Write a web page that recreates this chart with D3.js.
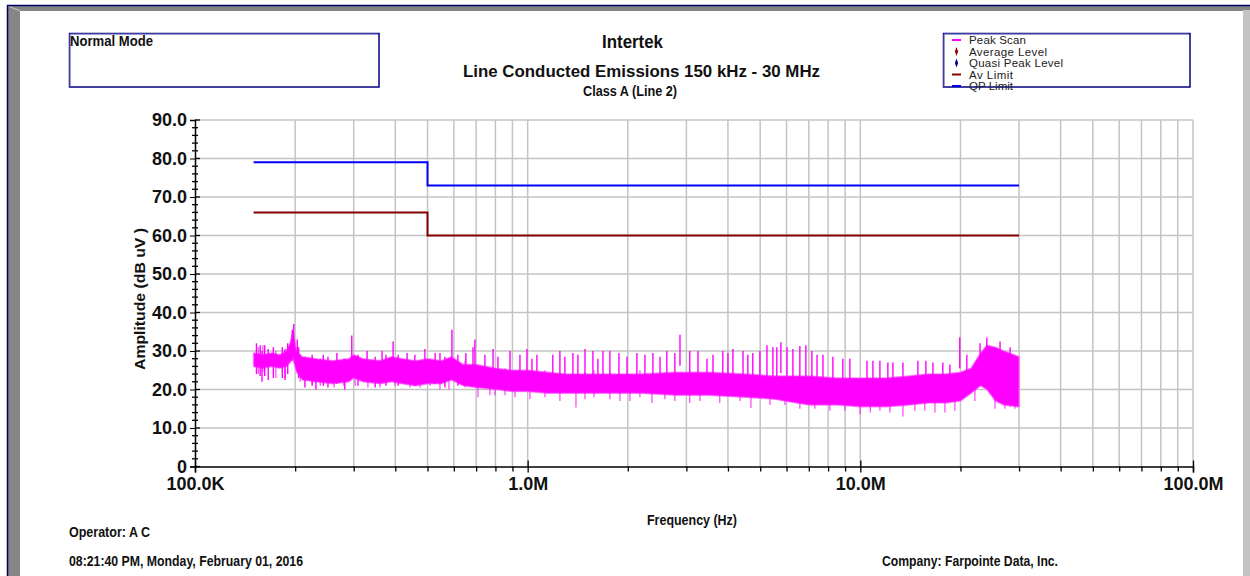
<!DOCTYPE html>
<html>
<head>
<meta charset="utf-8">
<script src="https://cdn.jsdelivr.net/npm/d3@7/dist/d3.min.js"></script>
<style>
  html, body { margin: 0; padding: 0; background: #fff; }
  svg { display: block; font-family: 'Liberation Sans', Arial, sans-serif; }
</style>
</head>
<body>
<svg id="chart" width="1250" height="576"></svg>
<script>
// ---- data ----
// limit lines (freq in MHz, level in dB uV)
const qpLimitFreq = [0.15, 0.5, 0.5, 30];
const qpLimitLevel = [79, 79, 73, 73];
const avLimitFreq = [0.15, 0.5, 0.5, 30];
const avLimitLevel = [66, 66, 60, 60];

// peak scan body (upper / lower edge of the dense trace)
const scanFreq = [0.150, 0.160, 0.170, 0.180, 0.188, 0.193, 0.197, 0.202, 0.210, 0.230,
  0.260, 0.290, 0.300, 0.320, 0.360, 0.390, 0.420, 0.460, 0.500, 0.550,
  0.590, 0.640, 0.700, 0.800, 0.900, 1.00, 1.15, 1.30, 1.50, 1.80,
  2.20, 2.80, 3.50, 4.50, 5.50, 7.00, 8.50, 10.0, 12.0, 14.0,
  16.0, 18.0, 20.0, 21.5, 23.0, 24.0, 25.5, 27.0, 30.0];
const scanHigh = [29.5, 29, 29.5, 29, 30, 32, 35, 30, 28.5, 28,
  27.5, 28, 29, 28, 27.5, 28.5, 28, 27.5, 28, 27.5,
  28.5, 26.5, 26.5, 25.5, 25, 25, 24.5, 24, 24, 24,
  24, 24.5, 24.5, 24, 23.5, 23.5, 23, 23, 23, 23.5,
  24, 24, 24.5, 25.5, 29.5, 31.5, 31, 30, 28.5];
const scanLow = [26, 25.5, 26, 25.5, 26, 27, 28, 24.5, 22.5, 22,
  21.5, 22, 23, 22, 21.5, 22, 21.5, 21, 21.5, 21.5,
  22.5, 21, 20.5, 20, 19.5, 19.5, 19, 19, 19, 19,
  19, 18.5, 18.5, 18, 17.5, 16, 16, 15.5, 15.5, 16,
  16.5, 16.5, 17, 19, 21, 20, 17, 16, 15.5];

// upward spikes
const spikeFreq = [0.153, 0.157, 0.159, 0.162, 0.166, 0.172, 0.183, 0.1865, 0.190, 0.196,
  0.198, 0.203, 0.205, 0.214, 0.225, 0.231, 0.243, 0.251, 0.267, 0.282,
  0.296, 0.309, 0.329, 0.348, 0.365, 0.375, 0.394, 0.408, 0.434, 0.458,
  0.491, 0.527, 0.545, 0.564, 0.592, 0.617, 0.652, 0.685, 0.694, 0.744,
  0.787, 0.814, 0.885, 0.948, 0.995, 1.030, 1.066, 1.19, 1.25, 1.294,
  1.368, 1.416, 1.487, 1.571, 1.626, 1.684, 1.767, 1.881, 1.989, 2.13,
  2.252, 2.38, 2.50, 2.62, 2.77, 2.87, 3.07, 3.25, 3.46, 3.606,
  3.86, 4.00, 4.14, 4.44, 4.59, 4.75, 4.99, 5.24, 5.46, 5.61,
  5.77, 6.02, 6.27, 6.58, 6.86, 7.15, 7.41, 7.72, 8.27, 8.86,
  9.30, 10.47, 10.91, 11.45, 12.1, 12.53, 13.43, 14.89, 15.74, 16.53,
  17.7, 18.59, 19.9, 20.9, 22.9, 24.0, 26.3, 28.2];
const spikeTop = [32, 31.5, 30, 31.5, 30.5, 31, 31, 30.5, 32, 35.5,
  37, 33, 31, 28.5, 29, 28, 29, 28.5, 29.5, 28,
  34, 29, 30, 28.5, 30, 29, 32.5, 29, 29.5, 29,
  30.5, 29.5, 29.5, 28.5, 35.5, 29, 29.5, 31, 33, 29,
  30.5, 28.5, 30, 29, 30.5, 28, 29, 29, 30, 28.5,
  29.5, 29, 30.5, 30, 28, 30, 30, 29.5, 28.5, 29.5,
  29, 29.5, 28.5, 30, 29.5, 34.2, 30, 30, 28, 29,
  30, 29.5, 30.5, 30, 29, 29.5, 30, 31.5, 31, 31,
  32.3, 31, 30.5, 31.3, 31.5, 30, 29, 29, 28.5, 28,
  28, 27.5, 27.5, 27.5, 27, 27, 27, 27.5, 27.5, 27,
  27, 26.5, 33.5, 29, 32, 33.5, 32.5, 31];

// downward spikes
const dipFreq = [0.155, 0.160, 0.175, 0.1865, 0.207, 0.225, 0.238, 0.262, 0.280, 0.303,
  0.331, 0.360, 0.399, 0.443, 0.475, 0.509, 0.545, 0.580, 0.648, 0.709,
  0.770, 0.798, 0.855, 0.916, 1.016, 1.127, 1.25, 1.397, 1.487, 1.582,
  1.767, 1.894, 2.03, 2.175, 2.364, 2.586, 2.77, 3.07, 3.295, 3.78,
  4.35, 4.69, 5.35, 5.935, 6.58, 7.30, 8.10, 8.99, 9.98, 10.72,
  11.45, 12.27, 13.43, 14.59, 15.63, 16.76, 17.96, 19.24, 22.1, 25.4,
  27.2, 28.2, 29.15];
const dipBottom = [24, 24.5, 23, 23, 22, 21.5, 21, 20.5, 21, 21,
  20.5, 20.5, 21, 20.5, 20.5, 21, 20, 20, 20.5, 18,
  18.5, 18.5, 18.5, 18, 17.5, 18, 17, 15.3, 17.5, 18,
  17.5, 17, 17, 18, 16.5, 17.5, 17, 16.5, 17, 16.5,
  17, 15.2, 16, 16, 15, 15, 14.5, 14.5, 13.5, 14,
  14.5, 14, 13, 14.5, 14.5, 14, 14, 14.5, 17, 15,
  15, 15.5, 15];

// axis ticks
const yMajor = [0, 10, 20, 30, 40, 50, 60, 70, 80, 90];
const xDecades = [0.1, 1, 10, 100];
const xDecadeLabels = ["100.0K", "1.0M", "10.0M", "100.0M"];

// legend
const legendNames = ["Peak Scan", "Average Level", "Quasi Peak Level", "Av Limit", "QP Limit"];
const legendColors = ["#ff00ff", "#8b0000", "#00008b", "#8b0000", "#0000ff"];
const legendSymbols = ["line", "diamond", "diamond", "line", "line"];

const svg = d3.select("#chart");

// ---- window frame ----
svg.append("rect").attr("x", 0).attr("y", 0).attr("width", 1250).attr("height", 576).attr("fill", "#fff");
svg.append("rect").attr("x", 8).attr("y", 6).attr("width", 1242).attr("height", 5).attr("fill", "#858585");
svg.append("rect").attr("x", 8).attr("y", 6).attr("width", 12).attr("height", 570).attr("fill", "#858585");
svg.append("line").attr("x1", 8).attr("y1", 6).attr("x2", 20).attr("y2", 11).attr("stroke", "#c8c8c8").attr("stroke-width", 1);
svg.append("rect").attr("x", 1243).attr("y", 10).attr("width", 7).attr("height", 566).attr("fill", "#c3c3c3");
svg.append("line").attr("x1", 7).attr("y1", 5.5).attr("x2", 1250).attr("y2", 5.5).attr("stroke", "#000060").attr("stroke-width", 1.5);
svg.append("line").attr("x1", 7.5).attr("y1", 5).attr("x2", 7.5).attr("y2", 576).attr("stroke", "#000060").attr("stroke-width", 1.5);

// ---- scales ----
const x = d3.scaleLog().domain([0.1, 100]).range([195, 1193]);
const y = d3.scaleLinear().domain([0, 90]).range([466.5, 120]);

// gridlines
const xMinor = [];
xDecades.slice(0, 3).forEach(d => { for (let k = 2; k <= 9; k++) xMinor.push(d * k); });

const grid = svg.append("g");
grid.selectAll(".vg").data(xMinor.concat([1, 10, 100])).enter().append("line")
  .attr("x1", d => x(d)).attr("x2", d => x(d))
  .attr("y1", y(90)).attr("y2", y(0))
  .attr("stroke", "#c4c4c4").attr("stroke-width", 1.5);
grid.selectAll(".hg").data(yMajor.slice(1)).enter().append("line")
  .attr("x1", x(0.1)).attr("x2", x(100))
  .attr("y1", d => y(d)).attr("y2", d => y(d))
  .attr("stroke", "#c4c4c4").attr("stroke-width", 1.5);

// ---- peak scan ----
const scan = scanFreq.map((f, i) => ({ f: f, hi: scanHigh[i], lo: scanLow[i] }));
const area = d3.area().x(d => x(d.f)).y0(d => y(d.lo)).y1(d => y(d.hi));
svg.append("path").datum(scan).attr("d", area)
  .attr("fill", "#ff00ff").attr("stroke", "#ff44ff").attr("stroke-width", 1.5).attr("stroke-opacity", 0.6);

svg.append("g").selectAll("line").data(spikeFreq).enter().append("line")
  .attr("x1", d => x(d)).attr("x2", d => x(d))
  .attr("y1", (d, i) => y(spikeTop[i])).attr("y2", (d, i) => y(spikeTop[i] - 8))
  .attr("stroke", "#ff00ff").attr("stroke-width", 1.4);
svg.append("g").selectAll("line").data(dipFreq).enter().append("line")
  .attr("x1", d => x(d)).attr("x2", d => x(d))
  .attr("y1", (d, i) => y(dipBottom[i])).attr("y2", (d, i) => y(dipBottom[i] + 7))
  .attr("stroke", "#ff00ff").attr("stroke-width", 1.2).attr("stroke-opacity", 0.75);

// ---- limit lines ----
const stepLine = d3.line().x(d => x(d[0])).y(d => y(d[1]));
svg.append("path").datum(qpLimitFreq.map((f, i) => [f, qpLimitLevel[i]])).attr("d", stepLine)
  .attr("fill", "none").attr("stroke", "#0000ff").attr("stroke-width", 2);
svg.append("path").datum(avLimitFreq.map((f, i) => [f, avLimitLevel[i]])).attr("d", stepLine)
  .attr("fill", "none").attr("stroke", "#800000").attr("stroke-width", 2);

// ---- axes ----
const yAxis = svg.append("g").attr("transform", "translate(" + x(0.1) + ",0)")
  .call(d3.axisLeft(y).tickValues(yMajor).tickSize(5).tickPadding(3)
    .tickFormat(d => d === 0 ? "0" : d.toFixed(1)));
yAxis.select(".domain").attr("stroke", "#000").attr("stroke-width", 1.5);
yAxis.selectAll("text").attr("font-size", 18).attr("font-weight", "bold").attr("fill", "#111");

// minor y ticks cross the axis line
const yMinor = d3.range(0, 91, 2).filter(d => d % 10 !== 0);
svg.append("g").selectAll("line").data(yMinor).enter().append("line")
  .attr("x1", x(0.1) - 3).attr("x2", x(0.1) + 3)
  .attr("y1", d => y(d)).attr("y2", d => y(d))
  .attr("stroke", "#000").attr("stroke-width", 1.3);
svg.append("g").selectAll("line").data(yMajor).enter().append("line")
  .attr("x1", x(0.1)).attr("x2", x(0.1) + 5)
  .attr("y1", d => y(d)).attr("y2", d => y(d))
  .attr("stroke", "#000").attr("stroke-width", 1.3);

const xAxis = svg.append("g").attr("transform", "translate(0," + y(0) + ")")
  .call(d3.axisBottom(x).tickValues(xDecades).tickSize(6).tickPadding(5)
    .tickFormat((d, i) => xDecadeLabels[i]));
xAxis.select(".domain").attr("stroke", "#000").attr("stroke-width", 1.5);
xAxis.selectAll("text").attr("font-size", 18).attr("font-weight", "bold").attr("fill", "#111");
xAxis.selectAll(".tick line").attr("y1", -6).attr("stroke-width", 1.3);

svg.append("g").attr("transform", "translate(0," + y(0) + ")")
  .call(d3.axisBottom(x).tickValues(xMinor).tickSize(5).tickFormat(""))
  .call(g => g.select(".domain").remove())
  .selectAll(".tick line").attr("stroke-width", 1.3);

// ---- titles & texts ----
function label(txt, px, py, size, weight, len, anchor) {
  const t = svg.append("text").attr("x", px).attr("y", py)
    .attr("font-size", size).attr("font-weight", weight || "normal")
    .attr("fill", "#111").attr("text-anchor", anchor || "start").text(txt);
  if (len) t.attr("textLength", len).attr("lengthAdjust", "spacingAndGlyphs");
  return t;
}
label("Intertek", 632.5, 48, 18, "bold", 61, "middle");
label("Line Conducted Emissions 150 kHz - 30 MHz", 641.5, 77, 17, "bold", 357, "middle");
label("Class A (Line 2)", 630, 96, 14, "bold", 94, "middle");
label("Frequency (Hz)", 692, 525, 15, "bold", 90, "middle");
label("Operator: A C", 69, 537, 14, "bold", 81);
label("08:21:40 PM, Monday, February 01, 2016", 69, 566, 14, "bold", 234);
label("Company: Farpointe Data, Inc.", 882, 566, 14, "bold", 176);

svg.append("text").attr("transform", "translate(145,299) rotate(-90)")
  .attr("text-anchor", "middle").attr("font-size", 15).attr("font-weight", "bold")
  .attr("fill", "#111").attr("textLength", 142).attr("lengthAdjust", "spacingAndGlyphs")
  .text("Amplitude (dB uV )");

// ---- Normal Mode box ----
svg.append("rect").attr("x", 69.5).attr("y", 33.5).attr("width", 309.5).attr("height", 53.5)
  .attr("fill", "#fff").attr("stroke", "#000080").attr("stroke-width", 1.5);
svg.append("path").attr("d", "M70,87 V34 H378").attr("fill", "none").attr("stroke", "#7878c0").attr("stroke-width", 1);
label("Normal Mode", 70, 46, 14, "bold", 83);

// ---- legend ----
svg.append("rect").attr("x", 943.5).attr("y", 33.5).attr("width", 246.5).attr("height", 53.5)
  .attr("fill", "#fff").attr("stroke", "#000080").attr("stroke-width", 1.5);
svg.append("path").attr("d", "M944,87 V34 H1189").attr("fill", "none").attr("stroke", "#7878c0").attr("stroke-width", 1);

const legendLen = [57, 78, 94, 44, 44];
const leg = svg.append("g").selectAll("g").data(legendNames).enter().append("g")
  .attr("transform", (d, i) => "translate(952," + (40 + i * 11.5) + ")");
leg.each(function (d, i) {
  const g = d3.select(this);
  if (legendSymbols[i] === "line") {
    g.append("line").attr("x1", 0).attr("x2", 9).attr("y1", 0).attr("y2", 0)
      .attr("stroke", legendColors[i]).attr("stroke-width", 2);
  } else {
    g.append("path").attr("d", d3.symbol().type(d3.symbolDiamond).size(14)())
      .attr("transform", "translate(4.5,0) scale(0.8,1.3)").attr("fill", legendColors[i]);
  }
  g.append("text").attr("x", 17).attr("y", 4).attr("font-size", 11.5)
    .attr("fill", "#222").attr("textLength", legendLen[i]).attr("lengthAdjust", "spacing")
    .text(d);
});
</script>
</body>
</html>
